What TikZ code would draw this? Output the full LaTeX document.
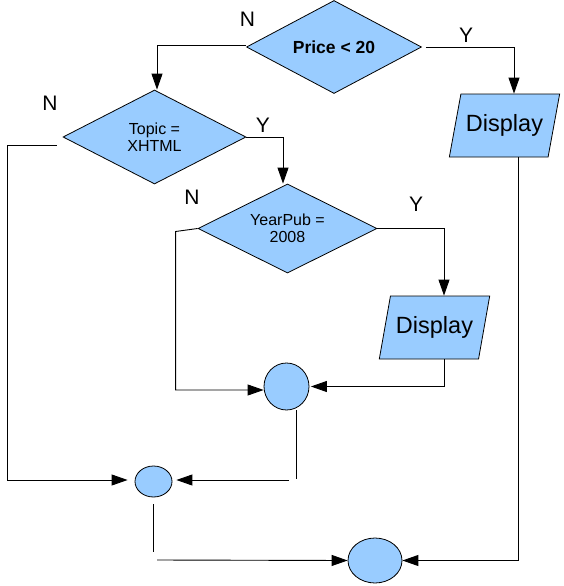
\documentclass[tikz,border=0pt]{standalone}
\usepackage{fontspec}
\setmainfont{Liberation Sans}
\usetikzlibrary{shapes.geometric,arrows.meta}
\definecolor{boxblue}{HTML}{99CCFF}
\begin{document}
\begin{tikzpicture}[x=1pt,y=-1pt,
  decision/.style={shape=diamond,aspect=2,draw=black,fill=boxblue,line width=0.8pt,inner sep=0pt,align=center},
  iobox/.style={shape=trapezium,trapezium stretches=true,draw=black,fill=boxblue,line width=0.8pt,inner sep=0pt,
     trapezium left angle=65,trapezium right angle=115,font=\fontsize{23.5}{26}\selectfont},
  joint/.style={shape=ellipse,draw=black,fill=boxblue,line width=0.8pt,inner sep=0pt},
  small/.style={font=\fontsize{16}{17.5}\selectfont},
  lbl/.style={font=\fontsize{21}{23}\selectfont,inner sep=0pt},
  arr/.style={-{Triangle[length=16pt,width=11pt]},line width=0.9pt},
  ln/.style={line width=0.9pt}]
\useasboundingbox (0,0) rectangle (564,586);

% decisions
\node[decision,minimum width=175pt,minimum height=93pt,font=\bfseries\fontsize{17.5}{20}\selectfont] (d1) at (334,47) {Price < 20};
\node[decision,minimum width=183pt,minimum height=94pt,small] (d2) at (154.5,137) {Topic =\\XHTML};
\node[decision,minimum width=179pt,minimum height=89pt,small] (d3) at (287.5,228.5) {YearPub =\\2008};

% displays
\node[iobox,minimum width=111pt,minimum height=63pt] (p1) at (504.5,125.5) {Display};
\node[iobox,minimum width=111pt,minimum height=63pt,trapezium left angle=66,trapezium right angle=114] (p2) at (434.5,327.5) {Display};

% joints
\node[joint,minimum width=45pt,minimum height=47pt] (c1) at (286.5,386.5) {};
\node[joint,minimum width=37pt,minimum height=31pt] (e2) at (153.5,481.5) {};
\node[joint,minimum width=54pt,minimum height=45pt] (e3) at (375,560.5) {};

% labels
\node[lbl] (n1) at (247.5,19) {N};
\node[lbl] (y1) at (466,35) {Y};
\node[lbl] (n2) at (50,103) {N};
\node[lbl] (y2) at (263,125) {Y};
\node[lbl] (n3) at (192,197) {N};
\node[lbl] (y3) at (416,204) {Y};

% named bend / free-end coordinates
\coordinate (k1) at (289,480);
\coordinate (k2) at (157,560);

% connectors
\draw[arr] ([yshift=2pt]d1.west) -| ([xshift=2.5pt]d2.north);
\draw[arr] ([xshift=4pt]d1.east) -| ([xshift=9.5pt]p1.north);
\draw[arr] ([xshift=13.5pt]p1.south) |- (e3.east);

\draw[arr,shorten >=7pt] ([xshift=-6pt,yshift=-8pt]d2.west) -- ++(-49,0) |- ([yshift=1.5pt]e2.west);
\draw[arr] (d2.east) -| ([xshift=-4.5pt]d3.north);

\draw[arr] (d3.west) -- ++(-22,3) |- ([yshift=-3.5pt]c1.west);
\draw[arr] (d3.east) -| ([xshift=9.5pt]p2.north);
\draw[arr,shorten >=1.5pt] ([xshift=9.5pt]p2.south) |- (c1.east);

\draw[ln] ([xshift=9.5pt]c1.south) -- ++(0,69);
\draw[arr,shorten >=4pt] (k1) -- ([yshift=1.5pt]e2.east);

\draw[ln] ([yshift=-7pt]e2.south) -- ++(0,48);
\draw[arr] (k2) -- (e3.west);
\end{tikzpicture}
\end{document}
